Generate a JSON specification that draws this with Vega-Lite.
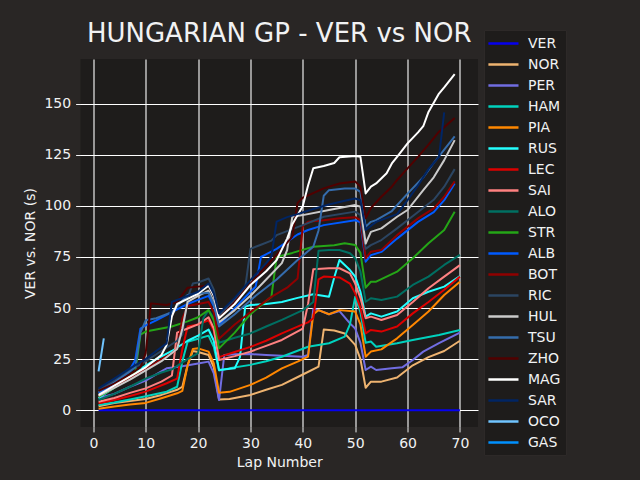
{
  "$schema": "https://vega.github.io/schema/vega-lite/v6.json",
  "autosize": {"type": "none"},
  "width": 397.5,
  "height": 368,
  "padding": {"left": 80.5, "top": 59, "right": 162, "bottom": 53},
  "background": "#292625",
  "title": {
    "text": "HUNGARIAN GP - VER vs NOR",
    "font": "DejaVu Sans",
    "fontSize": 26,
    "fontWeight": "normal",
    "color": "#f1f2f3",
    "anchor": "middle",
    "frame": "group",
    "baseline": "alphabetic",
    "offset": -38
  },
  "config": {
    "view": {"fill": "#1e1c1b", "stroke": null},
    "axis": {
      "grid": true,
      "gridColor": "#ffffff",
      "gridWidth": 1.1,
      "domain": false,
      "tickColor": "#f1f2f3",
      "tickSize": 4.9,
      "tickWidth": 1,
      "labelColor": "#f1f2f3",
      "labelFont": "DejaVu Sans",
      "labelFontSize": 14,
      "labelPadding": 4.9,
      "titleColor": "#f1f2f3",
      "titleFont": "DejaVu Sans",
      "titleFontSize": 14,
      "titleFontWeight": "normal"
    },
    "legend": {
      "orient": "none",
      "legendX": 403.5,
      "legendY": -29,
      "symbolType": "M-1.3,0L3,0",
      "symbolSize": 196,
      "symbolStrokeWidth": 2.5,
      "labelFont": "DejaVu Sans",
      "labelFontSize": 14,
      "labelColor": "#f1f2f3",
      "labelOffset": 22,
      "rowPadding": 5,
      "padding": 5,
      "fillColor": "#1e1c1b",
      "strokeColor": "#2d2928"
    }
  },
  "data": {
    "values": [
      {"driver":"VER","lap":1,"gap":0},{"driver":"VER","lap":22,"gap":0},{"driver":"VER","lap":23,"gap":0},{"driver":"VER","lap":24,"gap":0},{"driver":"VER","lap":50,"gap":0},{"driver":"VER","lap":51,"gap":0},{"driver":"VER","lap":52,"gap":0},{"driver":"VER","lap":70,"gap":0},

      {"driver":"NOR","lap":1,"gap":2},{"driver":"NOR","lap":4,"gap":3.5},{"driver":"NOR","lap":7,"gap":4.5},{"driver":"NOR","lap":10,"gap":5.5},{"driver":"NOR","lap":13,"gap":7.5},{"driver":"NOR","lap":16,"gap":10},{"driver":"NOR","lap":17,"gap":11.5},{"driver":"NOR","lap":18,"gap":22},{"driver":"NOR","lap":19,"gap":29},{"driver":"NOR","lap":20,"gap":28.5},{"driver":"NOR","lap":22,"gap":27},{"driver":"NOR","lap":23,"gap":21},{"driver":"NOR","lap":24,"gap":5.3},{"driver":"NOR","lap":26,"gap":5.5},{"driver":"NOR","lap":30,"gap":7.5},{"driver":"NOR","lap":33,"gap":10},{"driver":"NOR","lap":36,"gap":12.4},{"driver":"NOR","lap":40,"gap":17.5},{"driver":"NOR","lap":43,"gap":21.3},{"driver":"NOR","lap":44,"gap":39.5},{"driver":"NOR","lap":46,"gap":39},{"driver":"NOR","lap":48,"gap":37.6},{"driver":"NOR","lap":50,"gap":32},{"driver":"NOR","lap":51,"gap":25},{"driver":"NOR","lap":52,"gap":11},{"driver":"NOR","lap":53,"gap":14},{"driver":"NOR","lap":55,"gap":14},{"driver":"NOR","lap":58,"gap":16},{"driver":"NOR","lap":61,"gap":22},{"driver":"NOR","lap":64,"gap":26},{"driver":"NOR","lap":67,"gap":29},{"driver":"NOR","lap":70,"gap":34},

      {"driver":"PER","lap":1,"gap":6},{"driver":"PER","lap":4,"gap":8},{"driver":"PER","lap":7,"gap":11.5},{"driver":"PER","lap":10,"gap":14.5},{"driver":"PER","lap":12,"gap":17.5},{"driver":"PER","lap":14,"gap":20.5},{"driver":"PER","lap":17,"gap":21.5},{"driver":"PER","lap":20,"gap":22.9},{"driver":"PER","lap":22,"gap":23.8},{"driver":"PER","lap":23,"gap":18},{"driver":"PER","lap":24,"gap":5},{"driver":"PER","lap":25,"gap":27},{"driver":"PER","lap":27,"gap":27.4},{"driver":"PER","lap":30,"gap":27.5},{"driver":"PER","lap":33,"gap":27},{"driver":"PER","lap":37,"gap":26.5},{"driver":"PER","lap":40,"gap":26.2},{"driver":"PER","lap":41,"gap":27},{"driver":"PER","lap":42,"gap":49.5},{"driver":"PER","lap":43,"gap":49},{"driver":"PER","lap":45,"gap":47},{"driver":"PER","lap":47,"gap":48.5},{"driver":"PER","lap":49,"gap":42.5},{"driver":"PER","lap":50,"gap":40},{"driver":"PER","lap":51,"gap":33},{"driver":"PER","lap":52,"gap":19.7},{"driver":"PER","lap":53,"gap":21.3},{"driver":"PER","lap":54,"gap":19.7},{"driver":"PER","lap":57,"gap":20.5},{"driver":"PER","lap":59,"gap":21},{"driver":"PER","lap":61,"gap":24.6},{"driver":"PER","lap":63,"gap":28.7},{"driver":"PER","lap":66,"gap":32.8},{"driver":"PER","lap":70,"gap":38},

      {"driver":"HAM","lap":1,"gap":2.6},{"driver":"HAM","lap":4,"gap":3.8},{"driver":"HAM","lap":7,"gap":5.3},{"driver":"HAM","lap":10,"gap":6.8},{"driver":"HAM","lap":14,"gap":9.1},{"driver":"HAM","lap":16,"gap":11.5},{"driver":"HAM","lap":17,"gap":24},{"driver":"HAM","lap":18,"gap":33.5},{"driver":"HAM","lap":20,"gap":35},{"driver":"HAM","lap":22,"gap":36.5},{"driver":"HAM","lap":23,"gap":31},{"driver":"HAM","lap":24,"gap":19.5},{"driver":"HAM","lap":26,"gap":20.5},{"driver":"HAM","lap":30,"gap":22.2},{"driver":"HAM","lap":33,"gap":24},{"driver":"HAM","lap":36,"gap":26.2},{"driver":"HAM","lap":41,"gap":31.1},{"driver":"HAM","lap":45,"gap":32.8},{"driver":"HAM","lap":48,"gap":36},{"driver":"HAM","lap":49,"gap":42},{"driver":"HAM","lap":50,"gap":55.5},{"driver":"HAM","lap":51,"gap":48},{"driver":"HAM","lap":52,"gap":33},{"driver":"HAM","lap":53,"gap":33.6},{"driver":"HAM","lap":54,"gap":31.1},{"driver":"HAM","lap":58,"gap":32.8},{"driver":"HAM","lap":61,"gap":34.4},{"driver":"HAM","lap":66,"gap":36.8},{"driver":"HAM","lap":70,"gap":39.3},

      {"driver":"PIA","lap":1,"gap":0.7},{"driver":"PIA","lap":4,"gap":1.8},{"driver":"PIA","lap":7,"gap":2.8},{"driver":"PIA","lap":10,"gap":3.6},{"driver":"PIA","lap":13,"gap":5.9},{"driver":"PIA","lap":16,"gap":8.3},{"driver":"PIA","lap":17,"gap":9.5},{"driver":"PIA","lap":18,"gap":22},{"driver":"PIA","lap":19,"gap":30},{"driver":"PIA","lap":20,"gap":30.3},{"driver":"PIA","lap":22,"gap":28.7},{"driver":"PIA","lap":23,"gap":23},{"driver":"PIA","lap":24,"gap":8.6},{"driver":"PIA","lap":26,"gap":9},{"driver":"PIA","lap":30,"gap":12.4},{"driver":"PIA","lap":33,"gap":16},{"driver":"PIA","lap":36,"gap":20.5},{"driver":"PIA","lap":39,"gap":23.8},{"driver":"PIA","lap":41,"gap":26.2},{"driver":"PIA","lap":42,"gap":47},{"driver":"PIA","lap":43,"gap":49},{"driver":"PIA","lap":45,"gap":47},{"driver":"PIA","lap":47,"gap":49},{"driver":"PIA","lap":50,"gap":48.3},{"driver":"PIA","lap":51,"gap":42},{"driver":"PIA","lap":52,"gap":26.2},{"driver":"PIA","lap":53,"gap":28.7},{"driver":"PIA","lap":55,"gap":29.8},{"driver":"PIA","lap":58,"gap":35.2},{"driver":"PIA","lap":61,"gap":41.7},{"driver":"PIA","lap":64,"gap":48.3},{"driver":"PIA","lap":67,"gap":56.4},{"driver":"PIA","lap":70,"gap":62.9},

      {"driver":"RUS","lap":1,"gap":6},{"driver":"RUS","lap":4,"gap":11},{"driver":"RUS","lap":8,"gap":18.5},{"driver":"RUS","lap":12,"gap":25},{"driver":"RUS","lap":15,"gap":29},{"driver":"RUS","lap":18,"gap":34},{"driver":"RUS","lap":20,"gap":36.5},{"driver":"RUS","lap":22,"gap":39.5},{"driver":"RUS","lap":23,"gap":34},{"driver":"RUS","lap":24,"gap":19.7},{"driver":"RUS","lap":27,"gap":20.5},{"driver":"RUS","lap":28,"gap":26},{"driver":"RUS","lap":29,"gap":50.7},{"driver":"RUS","lap":30,"gap":51.5},{"driver":"RUS","lap":33,"gap":52},{"driver":"RUS","lap":36,"gap":53},{"driver":"RUS","lap":39,"gap":55},{"driver":"RUS","lap":42,"gap":56.8},{"driver":"RUS","lap":45,"gap":55.5},{"driver":"RUS","lap":46,"gap":65},{"driver":"RUS","lap":47,"gap":73.5},{"driver":"RUS","lap":49,"gap":68.6},{"driver":"RUS","lap":50,"gap":65.4},{"driver":"RUS","lap":51,"gap":58},{"driver":"RUS","lap":52,"gap":45.8},{"driver":"RUS","lap":53,"gap":47.4},{"driver":"RUS","lap":55,"gap":45.8},{"driver":"RUS","lap":58,"gap":48.3},{"driver":"RUS","lap":61,"gap":54.8},{"driver":"RUS","lap":64,"gap":58},{"driver":"RUS","lap":67,"gap":60.5},{"driver":"RUS","lap":70,"gap":65.7},

      {"driver":"LEC","lap":1,"gap":3.4},{"driver":"LEC","lap":4,"gap":5},{"driver":"LEC","lap":7,"gap":7},{"driver":"LEC","lap":10,"gap":9.1},{"driver":"LEC","lap":14,"gap":13.2},{"driver":"LEC","lap":16,"gap":15.5},{"driver":"LEC","lap":17,"gap":30},{"driver":"LEC","lap":18,"gap":41},{"driver":"LEC","lap":20,"gap":42},{"driver":"LEC","lap":22,"gap":44},{"driver":"LEC","lap":23,"gap":39},{"driver":"LEC","lap":24,"gap":26},{"driver":"LEC","lap":27,"gap":28.5},{"driver":"LEC","lap":30,"gap":31},{"driver":"LEC","lap":33,"gap":34},{"driver":"LEC","lap":36,"gap":37.6},{"driver":"LEC","lap":40,"gap":42},{"driver":"LEC","lap":41,"gap":43},{"driver":"LEC","lap":42,"gap":45},{"driver":"LEC","lap":43,"gap":64},{"driver":"LEC","lap":44,"gap":65.4},{"driver":"LEC","lap":47,"gap":65},{"driver":"LEC","lap":49,"gap":62},{"driver":"LEC","lap":50,"gap":57.2},{"driver":"LEC","lap":51,"gap":50},{"driver":"LEC","lap":52,"gap":37.6},{"driver":"LEC","lap":53,"gap":39.3},{"driver":"LEC","lap":55,"gap":38.5},{"driver":"LEC","lap":58,"gap":41},{"driver":"LEC","lap":61,"gap":47.4},{"driver":"LEC","lap":64,"gap":53},{"driver":"LEC","lap":67,"gap":59},{"driver":"LEC","lap":70,"gap":65.4},

      {"driver":"SAI","lap":1,"gap":4.2},{"driver":"SAI","lap":4,"gap":6},{"driver":"SAI","lap":7,"gap":8.5},{"driver":"SAI","lap":10,"gap":10.7},{"driver":"SAI","lap":13,"gap":14},{"driver":"SAI","lap":15,"gap":17},{"driver":"SAI","lap":16,"gap":38},{"driver":"SAI","lap":18,"gap":40},{"driver":"SAI","lap":20,"gap":42},{"driver":"SAI","lap":22,"gap":45.5},{"driver":"SAI","lap":23,"gap":40},{"driver":"SAI","lap":24,"gap":24.6},{"driver":"SAI","lap":27,"gap":26.5},{"driver":"SAI","lap":30,"gap":28.7},{"driver":"SAI","lap":33,"gap":31.5},{"driver":"SAI","lap":36,"gap":34.4},{"driver":"SAI","lap":40,"gap":40},{"driver":"SAI","lap":41,"gap":52},{"driver":"SAI","lap":42,"gap":69},{"driver":"SAI","lap":45,"gap":69.5},{"driver":"SAI","lap":47,"gap":69.5},{"driver":"SAI","lap":49,"gap":67},{"driver":"SAI","lap":50,"gap":62},{"driver":"SAI","lap":51,"gap":55},{"driver":"SAI","lap":52,"gap":45},{"driver":"SAI","lap":53,"gap":45.8},{"driver":"SAI","lap":55,"gap":44.2},{"driver":"SAI","lap":58,"gap":46.6},{"driver":"SAI","lap":61,"gap":53},{"driver":"SAI","lap":64,"gap":59.7},{"driver":"SAI","lap":67,"gap":65.4},{"driver":"SAI","lap":70,"gap":71},

      {"driver":"ALO","lap":1,"gap":5},{"driver":"ALO","lap":4,"gap":8},{"driver":"ALO","lap":7,"gap":11.5},{"driver":"ALO","lap":10,"gap":15.5},{"driver":"ALO","lap":13,"gap":18.5},{"driver":"ALO","lap":15,"gap":20},{"driver":"ALO","lap":18,"gap":25},{"driver":"ALO","lap":20,"gap":28},{"driver":"ALO","lap":21,"gap":45},{"driver":"ALO","lap":22,"gap":49},{"driver":"ALO","lap":23,"gap":45},{"driver":"ALO","lap":24,"gap":33},{"driver":"ALO","lap":27,"gap":35.5},{"driver":"ALO","lap":30,"gap":37.6},{"driver":"ALO","lap":33,"gap":41},{"driver":"ALO","lap":36,"gap":44.2},{"driver":"ALO","lap":40,"gap":49},{"driver":"ALO","lap":42,"gap":53},{"driver":"ALO","lap":43,"gap":78},{"driver":"ALO","lap":45,"gap":78.4},{"driver":"ALO","lap":47,"gap":78.4},{"driver":"ALO","lap":49,"gap":76.8},{"driver":"ALO","lap":50,"gap":74.4},{"driver":"ALO","lap":51,"gap":68},{"driver":"ALO","lap":52,"gap":53.1},{"driver":"ALO","lap":53,"gap":54.8},{"driver":"ALO","lap":55,"gap":54},{"driver":"ALO","lap":58,"gap":55.6},{"driver":"ALO","lap":61,"gap":61.3},{"driver":"ALO","lap":64,"gap":65.4},{"driver":"ALO","lap":67,"gap":71.1},{"driver":"ALO","lap":70,"gap":76},

      {"driver":"STR","lap":1,"gap":6.5},{"driver":"STR","lap":4,"gap":11},{"driver":"STR","lap":7,"gap":16},{"driver":"STR","lap":8,"gap":18.5},{"driver":"STR","lap":9,"gap":37},{"driver":"STR","lap":10,"gap":38.5},{"driver":"STR","lap":12,"gap":39.5},{"driver":"STR","lap":15,"gap":41},{"driver":"STR","lap":18,"gap":43.5},{"driver":"STR","lap":20,"gap":45.5},{"driver":"STR","lap":22,"gap":49},{"driver":"STR","lap":23,"gap":44},{"driver":"STR","lap":24,"gap":30.3},{"driver":"STR","lap":27,"gap":38},{"driver":"STR","lap":30,"gap":47},{"driver":"STR","lap":33,"gap":53.5},{"driver":"STR","lap":34,"gap":55.5},{"driver":"STR","lap":35,"gap":75},{"driver":"STR","lap":38,"gap":77},{"driver":"STR","lap":42,"gap":80},{"driver":"STR","lap":46,"gap":80.8},{"driver":"STR","lap":48,"gap":81.7},{"driver":"STR","lap":50,"gap":80.9},{"driver":"STR","lap":51,"gap":77},{"driver":"STR","lap":52,"gap":60},{"driver":"STR","lap":53,"gap":62.9},{"driver":"STR","lap":54,"gap":62.9},{"driver":"STR","lap":58,"gap":67.8},{"driver":"STR","lap":61,"gap":74.4},{"driver":"STR","lap":64,"gap":81.7},{"driver":"STR","lap":67,"gap":88.2},{"driver":"STR","lap":69,"gap":97.2},

      {"driver":"ALB","lap":1,"gap":8.5},{"driver":"ALB","lap":4,"gap":13},{"driver":"ALB","lap":7,"gap":20},{"driver":"ALB","lap":8,"gap":24.6},{"driver":"ALB","lap":9,"gap":40},{"driver":"ALB","lap":10,"gap":41.5},{"driver":"ALB","lap":12,"gap":44},{"driver":"ALB","lap":15,"gap":48},{"driver":"ALB","lap":18,"gap":52},{"driver":"ALB","lap":20,"gap":54},{"driver":"ALB","lap":22,"gap":56},{"driver":"ALB","lap":23,"gap":51},{"driver":"ALB","lap":24,"gap":41.5},{"driver":"ALB","lap":27,"gap":50},{"driver":"ALB","lap":30,"gap":58},{"driver":"ALB","lap":31,"gap":60.5},{"driver":"ALB","lap":32,"gap":75},{"driver":"ALB","lap":35,"gap":79},{"driver":"ALB","lap":39,"gap":86},{"driver":"ALB","lap":41,"gap":88.2},{"driver":"ALB","lap":44,"gap":90.6},{"driver":"ALB","lap":50,"gap":93},{"driver":"ALB","lap":51,"gap":92},{"driver":"ALB","lap":52,"gap":72.7},{"driver":"ALB","lap":53,"gap":75.9},{"driver":"ALB","lap":55,"gap":77.5},{"driver":"ALB","lap":58,"gap":84},{"driver":"ALB","lap":62,"gap":92.2},{"driver":"ALB","lap":65,"gap":97},{"driver":"ALB","lap":67,"gap":102.8},{"driver":"ALB","lap":69,"gap":111},

      {"driver":"BOT","lap":1,"gap":7},{"driver":"BOT","lap":4,"gap":11.5},{"driver":"BOT","lap":7,"gap":16},{"driver":"BOT","lap":10,"gap":20},{"driver":"BOT","lap":13,"gap":25},{"driver":"BOT","lap":15,"gap":28},{"driver":"BOT","lap":16,"gap":30},{"driver":"BOT","lap":17,"gap":45},{"driver":"BOT","lap":18,"gap":51},{"driver":"BOT","lap":20,"gap":52},{"driver":"BOT","lap":22,"gap":53},{"driver":"BOT","lap":23,"gap":48},{"driver":"BOT","lap":24,"gap":35},{"driver":"BOT","lap":27,"gap":42},{"driver":"BOT","lap":30,"gap":48},{"driver":"BOT","lap":34,"gap":55.5},{"driver":"BOT","lap":37,"gap":60},{"driver":"BOT","lap":39,"gap":64.5},{"driver":"BOT","lap":40,"gap":90},{"driver":"BOT","lap":41,"gap":92.2},{"driver":"BOT","lap":44,"gap":93},{"driver":"BOT","lap":47,"gap":94},{"driver":"BOT","lap":50,"gap":94.5},{"driver":"BOT","lap":51,"gap":93},{"driver":"BOT","lap":52,"gap":74.3},{"driver":"BOT","lap":53,"gap":77.6},{"driver":"BOT","lap":55,"gap":78.4},{"driver":"BOT","lap":58,"gap":85.7},{"driver":"BOT","lap":62,"gap":93.9},{"driver":"BOT","lap":65,"gap":98.8},{"driver":"BOT","lap":67,"gap":104.5},{"driver":"BOT","lap":69,"gap":112},

      {"driver":"RIC","lap":1,"gap":10},{"driver":"RIC","lap":4,"gap":14.5},{"driver":"RIC","lap":7,"gap":19.5},{"driver":"RIC","lap":10,"gap":24},{"driver":"RIC","lap":13,"gap":29},{"driver":"RIC","lap":16,"gap":34},{"driver":"RIC","lap":17,"gap":37},{"driver":"RIC","lap":18,"gap":55},{"driver":"RIC","lap":19,"gap":62},{"driver":"RIC","lap":20,"gap":62.5},{"driver":"RIC","lap":22,"gap":64.5},{"driver":"RIC","lap":23,"gap":59},{"driver":"RIC","lap":24,"gap":46.5},{"driver":"RIC","lap":27,"gap":54},{"driver":"RIC","lap":28,"gap":57},{"driver":"RIC","lap":29,"gap":60},{"driver":"RIC","lap":30,"gap":79},{"driver":"RIC","lap":32,"gap":81},{"driver":"RIC","lap":34,"gap":83},{"driver":"RIC","lap":35,"gap":85.7},{"driver":"RIC","lap":40,"gap":90.6},{"driver":"RIC","lap":44,"gap":94.7},{"driver":"RIC","lap":50,"gap":97.2},{"driver":"RIC","lap":51,"gap":95.5},{"driver":"RIC","lap":52,"gap":79},{"driver":"RIC","lap":53,"gap":80.8},{"driver":"RIC","lap":55,"gap":83.3},{"driver":"RIC","lap":58,"gap":89},{"driver":"RIC","lap":62,"gap":97},{"driver":"RIC","lap":65,"gap":103},{"driver":"RIC","lap":67,"gap":109.4},{"driver":"RIC","lap":69,"gap":118},

      {"driver":"HUL","lap":1,"gap":7},{"driver":"HUL","lap":4,"gap":11},{"driver":"HUL","lap":7,"gap":15},{"driver":"HUL","lap":10,"gap":19.5},{"driver":"HUL","lap":13,"gap":24},{"driver":"HUL","lap":16,"gap":30},{"driver":"HUL","lap":17,"gap":40},{"driver":"HUL","lap":18,"gap":53},{"driver":"HUL","lap":20,"gap":56},{"driver":"HUL","lap":22,"gap":58.5},{"driver":"HUL","lap":23,"gap":53},{"driver":"HUL","lap":24,"gap":43},{"driver":"HUL","lap":27,"gap":49},{"driver":"HUL","lap":30,"gap":56},{"driver":"HUL","lap":33,"gap":64},{"driver":"HUL","lap":36,"gap":72},{"driver":"HUL","lap":37,"gap":78.4},{"driver":"HUL","lap":38,"gap":94.7},{"driver":"HUL","lap":40,"gap":95.5},{"driver":"HUL","lap":45,"gap":98},{"driver":"HUL","lap":50,"gap":100.4},{"driver":"HUL","lap":51,"gap":99.6},{"driver":"HUL","lap":52,"gap":81.6},{"driver":"HUL","lap":53,"gap":87.3},{"driver":"HUL","lap":55,"gap":89},{"driver":"HUL","lap":58,"gap":94.7},{"driver":"HUL","lap":60,"gap":98},{"driver":"HUL","lap":63,"gap":107.7},{"driver":"HUL","lap":65,"gap":114},{"driver":"HUL","lap":67,"gap":122.4},{"driver":"HUL","lap":69,"gap":132.2},

      {"driver":"TSU","lap":1,"gap":9},{"driver":"TSU","lap":4,"gap":13.5},{"driver":"TSU","lap":7,"gap":19},{"driver":"TSU","lap":8,"gap":21},{"driver":"TSU","lap":9,"gap":38},{"driver":"TSU","lap":10,"gap":44},{"driver":"TSU","lap":12,"gap":45},{"driver":"TSU","lap":15,"gap":48},{"driver":"TSU","lap":18,"gap":56.4},{"driver":"TSU","lap":20,"gap":57},{"driver":"TSU","lap":22,"gap":57.5},{"driver":"TSU","lap":23,"gap":52},{"driver":"TSU","lap":24,"gap":41},{"driver":"TSU","lap":27,"gap":47},{"driver":"TSU","lap":31,"gap":56},{"driver":"TSU","lap":35,"gap":64},{"driver":"TSU","lap":39,"gap":73.5},{"driver":"TSU","lap":42,"gap":80},{"driver":"TSU","lap":43,"gap":88},{"driver":"TSU","lap":44,"gap":105},{"driver":"TSU","lap":45,"gap":107.7},{"driver":"TSU","lap":48,"gap":108.5},{"driver":"TSU","lap":50,"gap":108.5},{"driver":"TSU","lap":51,"gap":106.9},{"driver":"TSU","lap":52,"gap":89.8},{"driver":"TSU","lap":53,"gap":92.2},{"driver":"TSU","lap":54,"gap":93},{"driver":"TSU","lap":57,"gap":97.5},{"driver":"TSU","lap":60,"gap":106},{"driver":"TSU","lap":63,"gap":114},{"driver":"TSU","lap":65,"gap":121},{"driver":"TSU","lap":67,"gap":127.5},{"driver":"TSU","lap":69,"gap":134},

      {"driver":"ZHO","lap":1,"gap":9.5},{"driver":"ZHO","lap":4,"gap":13},{"driver":"ZHO","lap":7,"gap":17.5},{"driver":"ZHO","lap":9,"gap":21},{"driver":"ZHO","lap":10,"gap":28},{"driver":"ZHO","lap":11,"gap":52.3},{"driver":"ZHO","lap":14,"gap":51.5},{"driver":"ZHO","lap":16,"gap":53},{"driver":"ZHO","lap":18,"gap":60},{"driver":"ZHO","lap":20,"gap":60.5},{"driver":"ZHO","lap":22,"gap":61},{"driver":"ZHO","lap":23,"gap":56},{"driver":"ZHO","lap":24,"gap":45},{"driver":"ZHO","lap":27,"gap":53},{"driver":"ZHO","lap":30,"gap":62},{"driver":"ZHO","lap":35,"gap":76},{"driver":"ZHO","lap":38,"gap":85},{"driver":"ZHO","lap":39,"gap":101.5},{"driver":"ZHO","lap":40,"gap":104},{"driver":"ZHO","lap":44,"gap":108.6},{"driver":"ZHO","lap":47,"gap":111},{"driver":"ZHO","lap":50,"gap":112},{"driver":"ZHO","lap":51,"gap":109.4},{"driver":"ZHO","lap":52,"gap":94},{"driver":"ZHO","lap":53,"gap":99},{"driver":"ZHO","lap":55,"gap":104.5},{"driver":"ZHO","lap":57,"gap":109.4},{"driver":"ZHO","lap":58,"gap":112.7},{"driver":"ZHO","lap":60,"gap":118.4},{"driver":"ZHO","lap":62,"gap":124},{"driver":"ZHO","lap":64,"gap":130},{"driver":"ZHO","lap":66,"gap":136.3},{"driver":"ZHO","lap":69,"gap":143},

      {"driver":"MAG","lap":1,"gap":7.5},{"driver":"MAG","lap":4,"gap":12},{"driver":"MAG","lap":7,"gap":16.5},{"driver":"MAG","lap":10,"gap":21},{"driver":"MAG","lap":13,"gap":27},{"driver":"MAG","lap":14,"gap":32},{"driver":"MAG","lap":15,"gap":46},{"driver":"MAG","lap":16,"gap":52},{"driver":"MAG","lap":18,"gap":54.5},{"driver":"MAG","lap":20,"gap":57},{"driver":"MAG","lap":22,"gap":61},{"driver":"MAG","lap":23,"gap":56},{"driver":"MAG","lap":24,"gap":45},{"driver":"MAG","lap":27,"gap":52},{"driver":"MAG","lap":30,"gap":61.3},{"driver":"MAG","lap":33,"gap":68},{"driver":"MAG","lap":35,"gap":73.5},{"driver":"MAG","lap":37,"gap":84},{"driver":"MAG","lap":38,"gap":91},{"driver":"MAG","lap":40,"gap":100},{"driver":"MAG","lap":41,"gap":110},{"driver":"MAG","lap":42,"gap":118.4},{"driver":"MAG","lap":44,"gap":119.5},{"driver":"MAG","lap":46,"gap":121},{"driver":"MAG","lap":47,"gap":123.8},{"driver":"MAG","lap":50,"gap":124.4},{"driver":"MAG","lap":51,"gap":124},{"driver":"MAG","lap":52,"gap":106.1},{"driver":"MAG","lap":53,"gap":109.4},{"driver":"MAG","lap":54,"gap":111},{"driver":"MAG","lap":56,"gap":116},{"driver":"MAG","lap":57,"gap":120.8},{"driver":"MAG","lap":58,"gap":124},{"driver":"MAG","lap":60,"gap":130.6},{"driver":"MAG","lap":62,"gap":136},{"driver":"MAG","lap":63,"gap":139},{"driver":"MAG","lap":64,"gap":146},{"driver":"MAG","lap":66,"gap":155},{"driver":"MAG","lap":67,"gap":158},{"driver":"MAG","lap":69,"gap":164.5},

      {"driver":"SAR","lap":1,"gap":10.7},{"driver":"SAR","lap":4,"gap":15.5},{"driver":"SAR","lap":7,"gap":20.5},{"driver":"SAR","lap":10,"gap":25},{"driver":"SAR","lap":12,"gap":29},{"driver":"SAR","lap":14,"gap":32.7},{"driver":"SAR","lap":15,"gap":53},{"driver":"SAR","lap":17,"gap":55},{"driver":"SAR","lap":20,"gap":58},{"driver":"SAR","lap":22,"gap":62},{"driver":"SAR","lap":23,"gap":57},{"driver":"SAR","lap":24,"gap":47.4},{"driver":"SAR","lap":27,"gap":55},{"driver":"SAR","lap":30,"gap":63.7},{"driver":"SAR","lap":33,"gap":72},{"driver":"SAR","lap":34,"gap":75.2},{"driver":"SAR","lap":35,"gap":92.3},{"driver":"SAR","lap":37,"gap":94.5},{"driver":"SAR","lap":39,"gap":96},{"driver":"SAR","lap":42,"gap":98.5},{"driver":"SAR","lap":45,"gap":100.7},{"driver":"SAR","lap":48,"gap":102.5},{"driver":"SAR","lap":50,"gap":103.6},{"driver":"SAR","lap":51,"gap":102.8},{"driver":"SAR","lap":52,"gap":88.2},{"driver":"SAR","lap":54,"gap":92.2},{"driver":"SAR","lap":58,"gap":96},{"driver":"SAR","lap":60,"gap":102.8},{"driver":"SAR","lap":62,"gap":110},{"driver":"SAR","lap":64,"gap":118},{"driver":"SAR","lap":65,"gap":121},{"driver":"SAR","lap":66,"gap":124},{"driver":"SAR","lap":67,"gap":145.8},

      {"driver":"OCO","lap":1,"gap":19},{"driver":"OCO","lap":2,"gap":35.2}
    ]
  },
  "mark": {"type": "line", "strokeWidth": 2, "strokeJoin": "round"},
  "encoding": {
    "x": {
      "field": "lap",
      "type": "quantitative",
      "title": "Lap Number",
      "scale": {"domain": [-2.45, 73.45], "nice": false, "zero": false},
      "axis": {"values": [0, 10, 20, 30, 40, 50, 60, 70], "titlePadding": 5}
    },
    "y": {
      "field": "gap",
      "type": "quantitative",
      "title": "VER vs. NOR (s)",
      "scale": {"domain": [-8.2, 171.9], "nice": false, "zero": false},
      "axis": {"values": [0, 25, 50, 75, 100, 125, 150], "titlePadding": 6}
    },
    "color": {
      "field": "driver",
      "type": "nominal",
      "title": null,
      "sort": null,
      "scale": {
        "domain": ["VER","NOR","PER","HAM","PIA","RUS","LEC","SAI","ALO","STR","ALB","BOT","RIC","HUL","TSU","ZHO","MAG","SAR","OCO","GAS"],
        "range": ["#0600ef","#eeb370","#716de2","#00d2be","#ff8700","#24ffff","#dc0000","#ff8181","#006f62","#25a617","#005aff","#900000","#2b4562","#cacaca","#356cac","#500000","#ffffff","#012564","#70c4ff","#0090ff"]
      }
    }
  }
}
